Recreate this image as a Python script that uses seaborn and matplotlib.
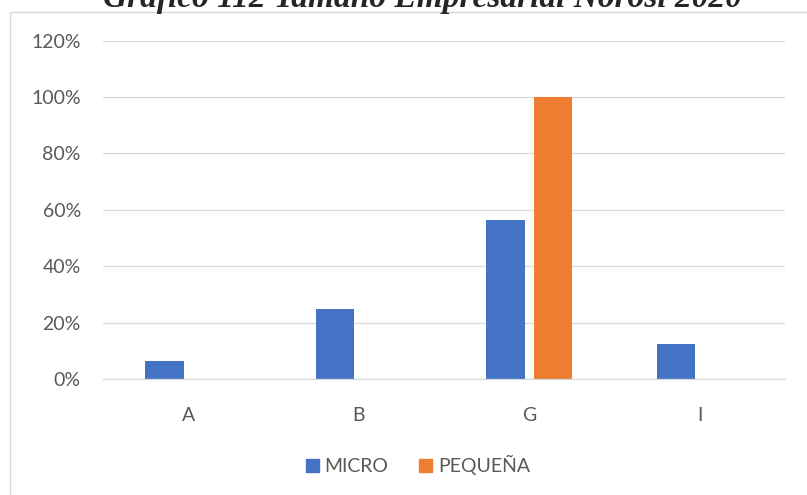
import pandas as pd
import matplotlib.pyplot as plt
import matplotlib.patches as mpatches
from matplotlib.ticker import PercentFormatter
import seaborn as sns

# valores
categorias = ['A', 'B', 'G', 'I']
micro = [0.0625, 0.25, 0.5625, 0.125]
pequena = [0.0, 0.0, 1.0, 0.0]
series = ['MICRO', 'PEQUEÑA']
colores = ['#4472C4', '#ED7D31']
yticks = [0, 0.2, 0.4, 0.6, 0.8, 1.0, 1.2]

df = pd.DataFrame({
    'Actividad': categorias * 2,
    'Tamaño': [series[0]] * 4 + [series[1]] * 4,
    'Valor': micro + pequena,
})

sns.set_theme(style='white')
plt.rcParams['font.family'] = ['Lato', 'DejaVu Sans']

W, H = 807, 495
fig = plt.figure(figsize=(W / 100, H / 100), dpi=100)
ax = fig.add_axes([103 / W, 1 - 379 / H, (785 - 103) / W, (379 - 40.6) / H])

sns.barplot(data=df, x='Actividad', y='Valor', hue='Tamaño',
            hue_order=series, palette=colores, order=categorias, saturation=1,
            width=0.56, gap=0.19, errorbar=None, linewidth=0, ax=ax)

ax.set_ylim(0, 1.2)
ax.set_yticks(yticks)
ax.yaxis.set_major_formatter(PercentFormatter(1.0, decimals=0))
ax.set_xlim(-0.5, 3.5)
ax.grid(axis='y', color='#D9D9D9', linewidth=0.9)
ax.set_axisbelow(True)
for s in ['left', 'right', 'top']:
    ax.spines[s].set_visible(False)
ax.spines['bottom'].set_color('#D9D9D9')
ax.spines['bottom'].set_linewidth(0.9)
ax.tick_params(axis='y', length=0, pad=16, labelsize=14, labelcolor='#595959')
ax.tick_params(axis='x', length=0, pad=20, labelsize=14, labelcolor='#595959')
ax.set_xlabel('')
ax.set_ylabel('')
ax.get_legend().remove()

handles = [mpatches.Patch(color=c, label=s) for c, s in zip(colores, series)]
fig.legend(handles=handles, loc='center', bbox_to_anchor=(418 / W, 1 - 465 / H),
           ncol=2, frameon=False, fontsize=14, handlelength=0.65, handleheight=0.65,
           handletextpad=0.3, columnspacing=1.6, labelcolor='#595959')

# marco del area del grafico
fig.add_artist(mpatches.Rectangle((9.5 / W, -0.1), 1.2, 1 - 11.5 / H + 0.1,
                                  transform=fig.transFigure, fill=False,
                                  edgecolor='#D9D9D9', linewidth=1))

# el titulo aparece recortado por el borde superior, como en la imagen original
fig.text(0.524, 1 - 7 / H, 'Gráfico 112 Tamaño Empresarial Norosí 2020',
         ha='center', va='baseline', fontsize=24, fontweight='bold',
         fontstyle='italic', family=['Liberation Serif', 'DejaVu Serif'])

fig.savefig('out.png', dpi=100)
